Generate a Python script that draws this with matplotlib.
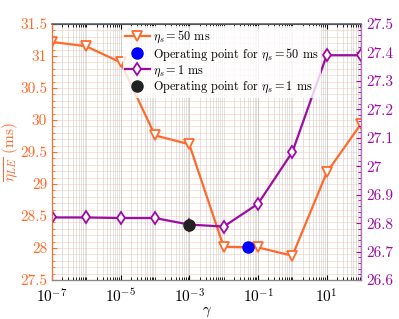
import numpy as np
import matplotlib
matplotlib.use('Agg')
import matplotlib.pyplot as plt
from matplotlib.ticker import (LogLocator, FixedLocator, MultipleLocator,
                               NullFormatter, FuncFormatter, LogFormatterMathtext)

plt.rcParams['font.family'] = 'serif'
plt.rcParams['font.serif'] = ['cmr10', 'DejaVu Serif']
plt.rcParams['mathtext.fontset'] = 'cm'
plt.rcParams['axes.formatter.use_mathtext'] = True

gamma = [1e-7, 1e-6, 1e-5, 1e-4, 1e-3, 1e-2, 1e-1, 1e0, 1e1, 1e2]
eta_50 = [31.22, 31.15, 30.90, 29.76, 29.62, 28.02, 28.01, 27.88, 29.18, 29.94]
eta_1 = [26.82, 26.82, 26.818, 26.818, 26.795, 26.788, 26.868, 27.05, 27.39, 27.39]
op_50 = (0.05, 28.01)
op_1 = (1e-3, 26.795)
xticks = [1e-7, 1e-5, 1e-3, 1e-1, 1e1]

orange = '#FF6A2B'
purple = '#9C0DA3'

fig = plt.figure(figsize=(3.99, 3.19), dpi=100)
ax = fig.add_axes([0.130, 0.122, 0.775, 0.803])
ax2 = ax.twinx()

l1, = ax.plot(gamma, eta_50, color=orange, lw=1.6, marker='v', ms=7.5,
              mfc='white', mec=orange, mew=1.3)
p1, = ax.plot([op_50[0]], [op_50[1]], 'o', color='blue', ms=8, zorder=5)
l2, = ax2.plot(gamma, eta_1, color=purple, lw=1.6, marker='d', ms=6.5,
               mfc='white', mec=purple, mew=1.3)
p2, = ax2.plot([op_1[0]], [op_1[1]], 'o', color='#222222', ms=8, zorder=5)

ax.set_xscale('log')
ax.set_xlim(1e-7, 1e2)
ax.set_ylim(27.5, 31.5)
ax2.set_ylim(26.6, 27.5)

ax.xaxis.set_major_locator(FixedLocator(xticks))
ax.xaxis.set_major_formatter(LogFormatterMathtext())
ax.xaxis.set_minor_locator(LogLocator(base=10, subs=np.arange(1, 10), numticks=200))
ax.xaxis.set_minor_formatter(NullFormatter())
fmt = FuncFormatter(lambda v, p: '%g' % round(v, 3))
ax.yaxis.set_major_locator(MultipleLocator(0.5))
ax.yaxis.set_minor_locator(MultipleLocator(0.1))
ax.yaxis.set_major_formatter(fmt)
ax2.yaxis.set_major_locator(MultipleLocator(0.1))
ax2.yaxis.set_minor_locator(MultipleLocator(0.02))
ax2.yaxis.set_major_formatter(fmt)

ax.grid(True, which='major', axis='x', color='#aaaaaa', lw=0.6, alpha=0.7)
ax.grid(True, which='minor', axis='x', color='#bbbbbb', lw=0.5, alpha=0.6)
ax.grid(True, which='both', axis='y', color='#f8c4ac', lw=0.5, alpha=0.7)

ax.tick_params(axis='x', which='both', direction='in', top=True, labelsize=11, pad=5)
ax.tick_params(axis='y', which='both', direction='in', colors=orange, labelsize=11)
ax2.tick_params(axis='y', which='both', direction='in', colors=purple, labelsize=11)
ax.tick_params(which='minor', length=2)
ax2.tick_params(which='minor', length=2)

ax2.spines['left'].set_color(orange)
ax2.spines['right'].set_color('#c070c8')
ax2.spines['top'].set_color('#666666')
ax2.spines['top'].set_linewidth(1.2)
ax2.spines['bottom'].set_color('#888888')
ax.spines['left'].set_color(orange)

ax.set_xlabel(r'$\gamma$', fontsize=10.5, labelpad=0)
ax.set_ylabel(r'$\overline{\eta_{LE}}$ (ms)', color=orange, fontsize=11, labelpad=0)

leg = ax2.legend([l1, p1, l2, p2],
                 [r'$\eta_s = 50$ ms', r'Operating point for $\eta_s = 50$ ms',
                  r'$\eta_s = 1$ ms', r'Operating point for $\eta_s = 1$ ms'],
                 loc='upper left', bbox_to_anchor=(0.225, 0.995), fontsize=8.8,
                 frameon=True, framealpha=0.8, edgecolor='none',
                 handlelength=2.0, handletextpad=0.3, labelspacing=0.08,
                 borderaxespad=0.1, borderpad=0.2)

fig.savefig('out.png', dpi=100)
